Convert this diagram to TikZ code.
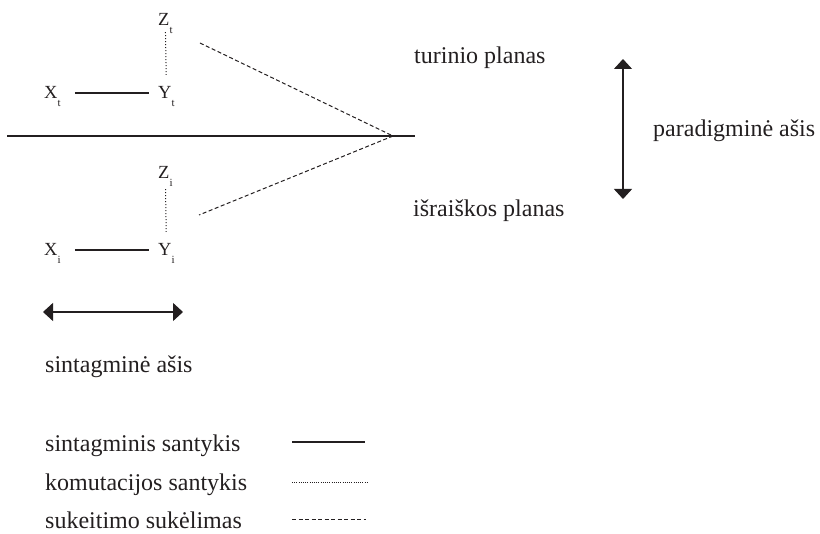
\documentclass[tikz,border=0pt]{standalone}
\usepackage{fontspec}
\setmainfont{Liberation Serif}
\usetikzlibrary{arrows.meta}
\definecolor{ink}{HTML}{231F20}
\newcommand\subx[1]{\raisebox{-8pt}{\fontsize{11}{11}\selectfont #1}}
\begin{document}
\begin{tikzpicture}[x=1pt,y=-1pt,
  txt/.style={font=\fontsize{24}{28}\selectfont, text=ink, inner sep=0pt, anchor=base west},
  var/.style={font=\fontsize{18.5}{20}\selectfont, text=ink, inner sep=0pt, anchor=base west, text height=12pt, text depth=0pt},
  solidrel/.style={draw=ink, line width=1.1pt},
  dotrel/.style={draw=ink, line width=1pt, dash pattern=on 1pt off 2pt},
  dashrel/.style={draw=ink, line width=1pt, dash pattern=on 4pt off 2.5pt},
  mainline/.style={draw=ink, line width=1.7pt},
  axisarrow/.style={draw=ink, line width=1.2pt, {Triangle[width=18pt,length=10pt]}-{Triangle[width=18pt,length=10pt]}},
]
\useasboundingbox (0,0) rectangle (820,534);

% variables
\node[var] (Zt) at (158,26) {Z\subx{t}};
\node[var] (Yt) at (158,99) {Y\subx{t}};
\node[var] (Xt) at (44,99) {X\subx{t}};
\node[var] (Zi) at (158,179) {Z\subx{i}};
\node[var] (Yi) at (158,256) {Y\subx{i}};
\node[var] (Xi) at (44,256) {X\subx{i}};

% relations
\draw[solidrel, shorten <=14pt, shorten >=9pt] (Xt.east) -- (Yt.west);
\draw[solidrel, shorten <=14pt, shorten >=9pt] (Xi.east) -- (Yi.west);
\draw[dotrel, shorten <=6pt, shorten >=12pt] (Zt.south) -- (Yt.north);
\draw[dotrel, shorten <=10pt, shorten >=12pt] (Zi.south) -- (Yi.north);

% main line and dashed
\coordinate (L) at (7,136);
\coordinate (R) at (415,136);
\coordinate (apex) at (393,136);
\coordinate (dt) at (200,43);
\coordinate (di) at (199,215);
\draw[mainline] (L) -- (R);
\draw[dashrel] (dt) -- (apex);
\draw[dashrel] (apex) -- (di);

% labels
\node[txt] (tp) at (414,64) {turinio planas};
\node[txt] (ip) at (413,217) {išraiškos planas};
\node[txt] (pa) at (653,137) {paradigminė ašis};
\node[txt] (sa) at (45,373) {sintagminė ašis};

% axes
\coordinate (pt) at (623,59);
\coordinate (pb) at (623,199);
\draw[axisarrow] (pt) -- (pb);
\coordinate (sl) at (43,312);
\coordinate (sr) at (183,312);
\draw[axisarrow] (sl) -- (sr);

% legend
\node[txt] (l1) at (45,452) {sintagminis santykis};
\node[txt] (l2) at (45,491) {komutacijos santykis};
\node[txt] (l3) at (45,529) {sukeitimo sukėlimas};
\coordinate (a1) at (292,442);
\coordinate (b1) at (365,442);
\coordinate (a2) at (292,482);
\coordinate (b2) at (367,482);
\coordinate (a3) at (292,520);
\coordinate (b3) at (366,520);
\draw[solidrel] (a1) -- (b1);
\draw[ink, line width=0.8pt, dash pattern=on 0.8pt off 1.4pt] (a2) -- (b2);
\draw[dashrel] (a3) -- (b3);
\end{tikzpicture}
\end{document}
